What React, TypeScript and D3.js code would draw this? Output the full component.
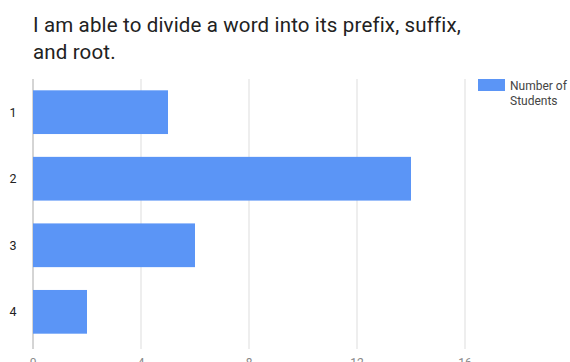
import React from "react";
import * as d3 from "d3";

const categories = ["1", "2", "3", "4"];
const values = [5, 14, 6, 2];
const xTicks = [0, 4, 8, 12, 16];
const titleLines = ["I am able to divide a word into its prefix, suffix,", "and root."];
const legendLines = ["Number of", "Students"];

const W = 570;
const H = 362;
const M = { left: 33, top: 79, bottom: 345 };
const FONT = "Roboto, Arial, sans-serif";
const BLUE = "#5b95f6";

export default function App() {
  const x = d3.scaleLinear().domain([0, 16]).range([M.left, M.left + 16 * 27]);
  const y = d3
    .scaleBand<string>()
    .domain(categories)
    .range([M.top, M.bottom])
    .paddingInner(0.343)
    .paddingOuter(0.17);

  return (
    <svg
      width={W}
      height={H}
      style={{ position: "absolute", left: 0, top: 0, background: "#fff" }}
      fontFamily={FONT}
    >
      {titleLines.map((t, i) => (
        <text key={i} x={33} y={31.5 + i * 27.5} fontSize={20.5} letterSpacing={0.15} fill="#222">
          {t}
        </text>
      ))}
      {xTicks.map((t) => (
        <line
          key={"g" + t}
          x1={x(t)}
          x2={x(t)}
          y1={M.top}
          y2={349}
          stroke={t === 0 ? "#aaa" : "#ddd"}
          strokeWidth={1}
        />
      ))}
      {categories.map((c, i) => (
        <rect
          key={"b" + c}
          x={x(0)}
          y={y(c)}
          width={x(values[i]) - x(0)}
          height={y.bandwidth()}
          fill={BLUE}
        />
      ))}
      {categories.map((c) => (
        <text
          key={"c" + c}
          x={13}
          y={(y(c) as number) + y.bandwidth() / 2 + 4.5}
          fontSize={12.5}
          fill="#222"
          textAnchor="middle"
        >
          {c}
        </text>
      ))}
      {xTicks.map((t) => (
        <text key={"t" + t} x={x(t)} y={367} fontSize={12} fill="#888" textAnchor="middle">
          {t}
        </text>
      ))}
      <rect x={478} y={79} width={27} height={12} fill={BLUE} />
      {legendLines.map((l, i) => (
        <text key={"l" + i} x={510} y={90 + i * 15} fontSize={12} fill="#444">
          {l}
        </text>
      ))}
    </svg>
  );
}
